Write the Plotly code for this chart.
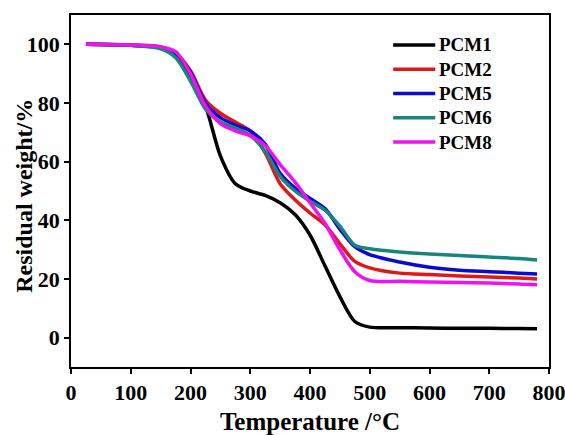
import plotly.graph_objects as go

# Temperature grid (°C) shared by all TGA curves
temperature = [25, 100, 150, 175, 200, 225, 250, 275, 300, 325, 350, 375,
               400, 425, 450, 475, 500, 550, 600, 650, 700, 750, 780]

# Residual weight (%) for each sample
pcm1 = [100, 99.7, 98.8, 96.5, 89, 79, 62, 52.5, 50, 48.5, 46, 42,
        35, 24.5, 14, 5.5, 3.6, 3.4, 3.3, 3.2, 3.2, 3.1, 3.0]
pcm2 = [100, 99.7, 99, 97, 91, 81, 76.5, 73.5, 70.5, 63, 52.5, 47,
        42.5, 38.5, 32, 26, 23.8, 22, 21.5, 21, 20.7, 20.3, 20.0]
pcm5 = [100, 99.7, 99, 97, 90.5, 80, 75, 72.5, 70.5, 66, 56, 51,
        47.5, 44, 37, 31, 28.3, 25.8, 24, 23, 22.5, 22, 21.7]
pcm6 = [100, 99.7, 98.5, 95.5, 87.5, 78, 73.5, 71.5, 69, 63.5, 55, 50,
        46.5, 43.5, 38, 31.5, 30.3, 29.2, 28.5, 28, 27.5, 27, 26.5]
pcm8 = [100, 99.8, 99.2, 97.5, 90, 79, 73, 70.5, 68.8, 65.5, 59, 53,
        46, 39, 30, 22.5, 19.5, 19.2, 19, 18.8, 18.6, 18.3, 18.0]

names = ["PCM1", "PCM2", "PCM5", "PCM6", "PCM8"]
series = [pcm1, pcm2, pcm5, pcm6, pcm8]
colors = ["#000000", "#e01818", "#0a0ad0", "#17857e", "#f010f0"]

x_ticks = [0, 100, 200, 300, 400, 500, 600, 700, 800]
y_ticks = [0, 20, 40, 60, 80, 100]

FONT = "Liberation Serif, Times New Roman, serif"

fig = go.Figure()
for name, ys, col in zip(names, series, colors):
    fig.add_trace(go.Scatter(
        x=temperature, y=ys, name=name, mode="lines", showlegend=False,
        line=dict(color=col, width=3.5, shape="spline", smoothing=0.8),
    ))

axis_common = dict(
    showline=True, linecolor="black", linewidth=1.5, mirror=True,
    ticks="outside", ticklen=5, tickwidth=1.5, tickcolor="black",
    showgrid=False, zeroline=False, automargin=False,
    ticklabeloverflow="allow",
    tickfont=dict(family=FONT, size=22, color="black", weight="bold"),
)

fig.update_xaxes(
    range=[0, 800], tickvals=x_ticks,
    title=dict(text="Temperature /°C", standoff=10,
               font=dict(family=FONT, size=25, color="black", weight="bold")),
    **axis_common,
)
fig.update_yaxes(range=[-10, 110], tickvals=y_ticks, **axis_common)

# Vertical y-axis title, set a little closer to the tick labels
fig.add_annotation(xref="paper", yref="paper", x=-0.100, y=0.487,
                   xanchor="center", yanchor="middle", showarrow=False,
                   textangle=-90, text="Residual weight/%",
                   font=dict(family=FONT, size=24, color="black", weight="bold"))

# Legend key: a short line sample followed by the sample name, stacked top-down
key_x0, key_x1, text_x = 0.674, 0.762, 0.766
key_top, key_step = 0.915, 0.069
for i, (name, col) in enumerate(zip(names, colors)):
    yk = key_top - i * key_step
    fig.add_shape(type="line", xref="paper", yref="paper",
                  x0=key_x0, x1=key_x1, y0=yk, y1=yk,
                  line=dict(color=col, width=3.5))
    fig.add_annotation(xref="paper", yref="paper", x=text_x, y=yk,
                       xanchor="left", yanchor="middle", showarrow=False,
                       text=name,
                       font=dict(family=FONT, size=19, color="black", weight="bold"))

fig.update_layout(
    width=565, height=435,
    margin=dict(l=71, r=16, t=15, b=68),
    paper_bgcolor="white", plot_bgcolor="white",
    showlegend=False,
)

fig.write_html("out.html")
